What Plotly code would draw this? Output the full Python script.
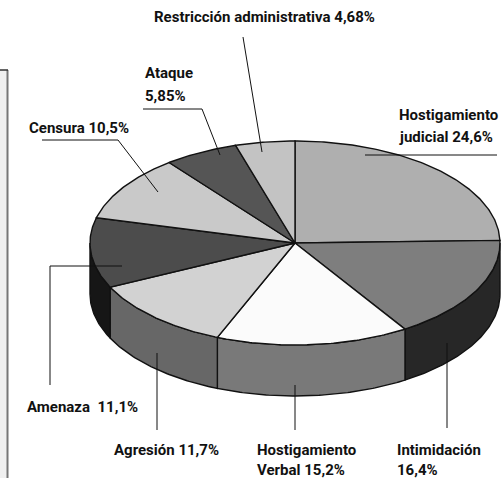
import numpy as np
import plotly.graph_objects as go

# ---- data ----
categories = ["Hostigamiento judicial", "Intimidación", "Hostigamiento Verbal",
              "Agresión", "Amenaza", "Censura", "Ataque", "Restricción administrativa"]
values = [24.6, 16.4, 15.2, 11.7, 11.1, 10.5, 5.85, 4.68]
top_colors = ["#afafaf", "#7e7e7e", "#fbfbfb", "#d2d2d2", "#4c4c4c", "#c9c9c9", "#555555", "#c3c3c3"]
side_colors = ["#5a5a5a", "#272727", "#797979", "#676767", "#161616", "#777777", "#333333", "#777777"]

# ---- geometry (pixel space) ----
W, H = 501, 478
cx, cy, ra, rb, depth = 295, 243, 205, 102, 51

total = sum(values)
fracs = np.cumsum([0] + values) / total
angles = fracs * 360.0  # clockwise from 12 o'clock


def arc(t1, t2, dy=0.0, n=None):
    if n is None:
        n = max(3, int(abs(t2 - t1) * 1.5))
    t = np.radians(np.linspace(t1, t2, n))
    return cx + ra * np.sin(t), cy - rb * np.cos(t) + dy


fig = go.Figure()

# side walls (front half: 90..270 deg)
for i in range(len(values)):
    s, e = max(angles[i], 90), min(angles[i + 1], 270)
    if e <= s:
        continue
    xt, yt = arc(s, e)
    xb, yb = arc(e, s, depth)
    fig.add_trace(go.Scatter(x=np.r_[xt, xb, xt[:1]], y=np.r_[yt, yb, yt[:1]],
                             mode="lines", fill="toself", fillcolor=side_colors[i],
                             line=dict(color="#111111", width=1.4), hoverinfo="skip",
                             showlegend=False))

# top faces
for i in range(len(values)):
    xa, ya = arc(angles[i], angles[i + 1])
    fig.add_trace(go.Scatter(x=np.r_[cx, xa, cx], y=np.r_[cy, ya, cy],
                             mode="lines", fill="toself", fillcolor=top_colors[i],
                             line=dict(color="#111111", width=1.4), hoverinfo="skip",
                             showlegend=False))

font = dict(family="Roboto, Liberation Sans Narrow, sans-serif",
            size=15, color="#111111")

labels = [
    ("<b>Restricción administrativa 4,68%</b>", 152, 17),
    ("<b>Ataque</b>", 143, 73),
    ("<b>5,85%</b>", 143, 96),
    ("<b>Hostigamiento</b>", 397, 115),
    ("<b>judicial 24,6%</b>", 397, 137),
    ("<b>Censura 10,5%</b>", 27, 128),
    ("<b>Amenaza  11,1%</b>", 25, 407),
    ("<b>Agresión 11,7%</b>", 112, 450),
    ("<b>Hostigamiento</b>", 255, 450),
    ("<b>Verbal 15,2%</b>", 255, 470),
    ("<b>Intimidación</b>", 395, 450),
    ("<b>16,4%</b>", 395, 470),
]
annotations = [dict(text=t, x=x, y=y, xref="x", yref="y", xanchor="left", yanchor="middle",
                    showarrow=False, font=font) for t, x, y in labels]

leaders = [
    "M 243,37 L 262,152",
    "M 143,109 L 202,109 L 220,155",
    "M 42,140 L 118,140 L 158,192",
    "M 497,155 L 365,155",
    "M 50,385 L 50,266 L 122,266",
    "M 157,353 L 157,430",
    "M 295,385 L 295,430",
    "M 447,343 L 447,428",
]
shapes = [dict(type="rect", xref="x", yref="y", x0=-2, x1=7.5, y0=70, y1=480,
               fillcolor="#f0f0f0", line=dict(width=0), layer="below"),
          dict(type="line", xref="x", yref="y", x0=7.5, x1=7.5, y0=70, y1=480,
               line=dict(color="#777777", width=2)),
          dict(type="line", xref="x", yref="y", x0=0, x1=8, y0=70, y1=70,
               line=dict(color="#333333", width=1.5))]
for p in leaders:
    shapes.append(dict(type="path", path=p, xref="x", yref="y",
                       line=dict(color="#111111", width=1)))

fig.update_layout(
    width=W, height=H, margin=dict(l=0, r=0, t=0, b=0),
    paper_bgcolor="white", plot_bgcolor="white",
    xaxis=dict(range=[0, W], visible=False, fixedrange=True),
    yaxis=dict(range=[H, 0], visible=False, fixedrange=True),
    annotations=annotations, shapes=shapes, showlegend=False,
)

fig.write_html("out.html", config={"displayModeBar": False},
               post_script="document.body.style.margin='0';document.body.style.overflow='hidden';")
